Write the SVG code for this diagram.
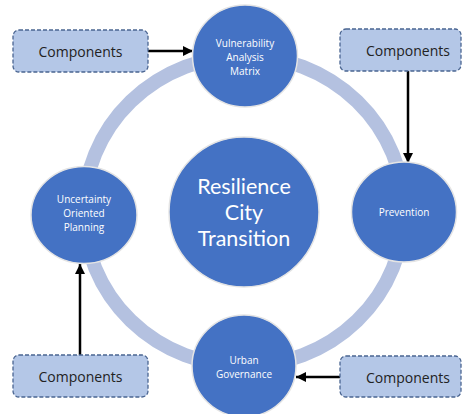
<svg xmlns="http://www.w3.org/2000/svg" width="466" height="414" viewBox="0 0 466 414">
<defs>
<style>
.node{fill:#4472C4;stroke:#E4E4E4;stroke-width:1.5}
.lbl{fill:#FFFFFF;font-family:"Open Sans","Noto Sans",sans-serif;font-size:10px;text-anchor:middle;dominant-baseline:central}
.big{fill:#FFFFFF;font-family:Lato,"Open Sans",sans-serif;font-size:21.5px;text-anchor:middle;dominant-baseline:central}
.box{fill:#B4C7E7;stroke:#4A6591;stroke-width:1.3;stroke-dasharray:4 2}
.btxt{fill:#222222;font-family:"Open Sans","Noto Sans",sans-serif;font-size:14px;text-anchor:middle;dominant-baseline:central}
.arr{stroke:#000000;stroke-width:2.5;fill:none;marker-end:url(#ah)}
</style>
<marker id="ah" viewBox="0 0 10 10" refX="10" refY="5" markerWidth="4" markerHeight="4" markerUnits="strokeWidth" orient="auto">
<path d="M0,0 L10,5 L0,10 z" fill="#000000"/>
</marker>
</defs>
<rect width="466" height="414" fill="#FFFFFF"/>
<ellipse cx="244" cy="211" rx="160" ry="155" fill="none" stroke="#B4C1E0" stroke-width="14"/>
<g id="connectors">
<line class="arr" x1="148" y1="51" x2="193" y2="51"/>
<line class="arr" x1="408" y1="71" x2="408" y2="163"/>
<line class="arr" x1="80" y1="355" x2="80" y2="264"/>
<line class="arr" x1="340" y1="377" x2="296" y2="377"/>
</g>
<g id="center">
<circle class="node" cx="244" cy="212" r="75"/>
<text class="big" x="244" y="186">Resilience</text>
<text class="big" x="244" y="212">City</text>
<text class="big" x="244" y="238">Transition</text>
</g>
<g id="vulnerability">
<ellipse class="node" cx="245" cy="56" rx="52.5" ry="51"/>
<text class="lbl" x="245" y="43">Vulnerability</text>
<text class="lbl" x="245" y="57">Analysis</text>
<text class="lbl" x="245" y="71">Matrix</text>
</g>
<g id="prevention">
<ellipse class="node" cx="404" cy="212" rx="52.5" ry="50"/>
<text class="lbl" x="404" y="212">Prevention</text>
</g>
<g id="uncertainty">
<ellipse class="node" cx="84" cy="215" rx="53" ry="48.5"/>
<text class="lbl" x="84" y="199">Uncertainty</text>
<text class="lbl" x="84" y="213">Oriented</text>
<text class="lbl" x="84" y="227">Planning</text>
</g>
<g id="governance">
<ellipse class="node" cx="244" cy="366" rx="52" ry="51"/>
<text class="lbl" x="244" y="360">Urban</text>
<text class="lbl" x="244" y="374">Governance</text>
</g>
<g id="comp-tl">
<rect class="box" x="13" y="30" width="135" height="42" rx="6"/>
<text class="btxt" x="80.5" y="51">Components</text>
</g>
<g id="comp-tr">
<rect class="box" x="340" y="29" width="121" height="42" rx="6"/>
<text class="btxt" x="408" y="50">Components</text>
</g>
<g id="comp-bl">
<rect class="box" x="13" y="355" width="135" height="42" rx="6"/>
<text class="btxt" x="80.5" y="376">Components</text>
</g>
<g id="comp-br">
<rect class="box" x="340" y="356" width="121" height="41" rx="6"/>
<text class="btxt" x="408" y="377">Components</text>
</g>
</svg>
